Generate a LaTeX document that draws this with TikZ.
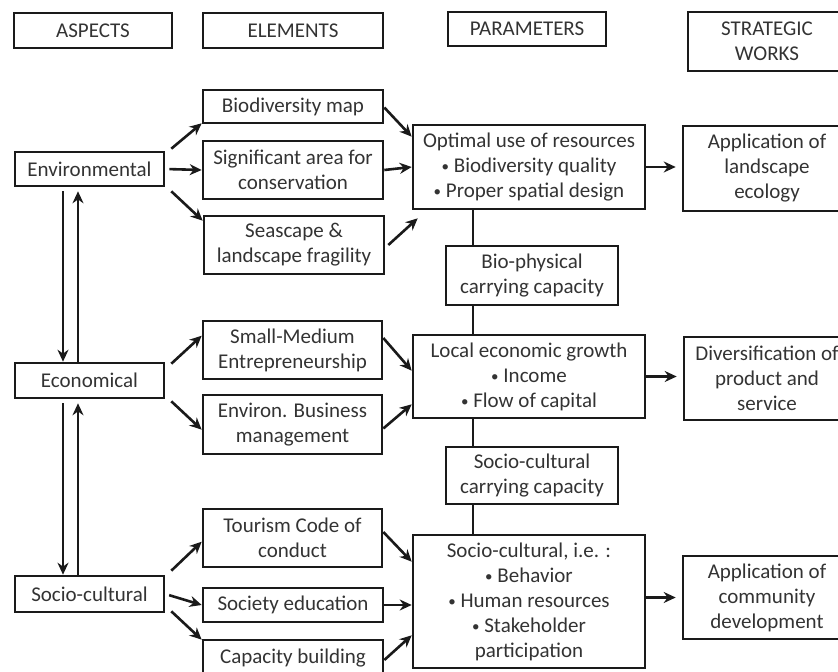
\documentclass[tikz,border=0pt]{standalone}
\usepackage{fontspec}
\setmainfont{Carlito}
\usetikzlibrary{arrows.meta}
\definecolor{txt}{HTML}{333333}
\definecolor{lc}{HTML}{1A1A1A}
\newcommand\smbul{\raisebox{0.5pt}{\fontsize{7.5}{7.5}\selectfont\textbullet}}
\begin{document}
\begin{tikzpicture}[x=0.5pt,y=-0.5pt,
  box/.style={draw=lc, line width=1.3pt, align=center, text=txt, inner sep=0pt,
    font=\fontsize{10.5}{12.5}\selectfont},
  arr/.style={draw=lc, -{Stealth[length=6pt,width=5.5pt]}, line width=1.3pt},
  ln/.style={draw=lc, line width=1.3pt}]
\useasboundingbox (0,0) rectangle (838,672);
\clip (0,0) rectangle (838,672);
% headers
\node[box, minimum width=79pt, minimum height=17.5pt] (asph) at (93,30.5) {ASPECTS};
\node[box, minimum width=90pt, minimum height=17.5pt] (elmh) at (293,30.5) {ELEMENTS};
\node[box, minimum width=79pt, minimum height=17pt] (parh) at (527,29) {PARAMETERS};
\node[box, minimum width=79pt, minimum height=29.5pt] (strh) at (767,41.5) {STRATEGIC\\WORKS};
% aspects
\node[box, minimum width=74.5pt, minimum height=17pt] (env) at (89.5,169) {Environmental};
\node[box, minimum width=74.5pt, minimum height=17.5pt] (econ) at (89.5,380.5) {Economical};
\node[box, minimum width=74.5pt, minimum height=18pt] (socio) at (89.5,594) {Socio-cultural};
% elements
\node[box, minimum width=90pt, minimum height=16.5pt] (biomap) at (293,106.5) {Biodiversity map};
\node[box, minimum width=90pt, minimum height=29pt] (sig) at (293,170) {Significant area for\\conservation};
\node[box, minimum width=90pt, minimum height=29pt] (sea) at (294,245) {Seascape \&\\landscape fragility};
\node[box, minimum width=89.5pt, minimum height=29pt] (small) at (292.5,350) {Small-Medium\\Entrepreneurship};
\node[box, minimum width=89.5pt, minimum height=29.5pt] (envbus) at (292.5,424.5) {Environ. Business\\management};
\node[box, minimum width=89.5pt, minimum height=29pt] (tour) at (292.5,538) {Tourism Code of\\conduct};
\node[box, minimum width=90pt, minimum height=17pt] (soced) at (293,605) {Society education};
\node[box, minimum width=90pt, minimum height=18pt] (capb) at (293,658) {Capacity building};
% parameters
\node[box, minimum width=116pt, minimum height=42pt] (opt) at (529,167) {Optimal use of resources\\\smbul{} Biodiversity quality\\\smbul{} Proper spatial design};
\node[box, minimum width=86pt, minimum height=29.5pt] (biop) at (532,275.5) {Bio-physical\\carrying capacity};
\node[box, minimum width=116pt, minimum height=41.5pt] (local) at (529,376.5) {Local economic growth\\\smbul{} Income\\\smbul{} Flow of capital};
\node[box, minimum width=86pt, minimum height=28.5pt] (socc) at (532,475.5) {Socio-cultural\\carrying capacity};
\node[box, minimum width=116pt, minimum height=66.5pt] (socie) at (529,601.5) {Socio-cultural, i.e. :\\\smbul{} Behavior\\\smbul{} Human resources\\\smbul{} Stakeholder\\participation};
% strategic works
\node[box, minimum width=84pt, minimum height=42.5pt] (app1) at (767,168.5) {Application of\\landscape\\ecology};
\node[box, minimum width=83pt, minimum height=41.5pt] (div) at (767,378.5) {Diversification of\\product and\\service};
\node[box, minimum width=84pt, minimum height=41.5pt] (app2) at (767,597.5) {Application of\\community\\development};
% helper coordinates
\coordinate (la) at (63,0);
\coordinate (ra) at (78,0);
\coordinate (vx) at (473,0);
% aspect vertical arrows
\draw[arr, shorten <=2pt] (env.south -| la) -- (econ.north -| la);
\draw[arr, shorten >=2pt] (econ.north -| ra) -- (env.south -| ra);
\draw[arr, shorten <=2pt] (econ.south -| la) -- (socio.north -| la);
\draw[arr, shorten >=2pt] (socio.north -| ra) -- (econ.south -| ra);
% aspects to elements
\draw[arr] ([shift={(6,-2)}]env.north east) -- ([shift={(0,-1)}]biomap.south west);
\draw[arr, shorten <=2pt] (env.east) -- (sig.west);
\draw[arr] ([shift={(6,4)}]env.south east) -- ([shift={(0,6)}]sea.north west);
\draw[arr] ([shift={(6,2)}]econ.north east) -- ([shift={(0,16)}]small.north west);
\draw[arr] ([shift={(6,2)}]econ.south east) -- ([shift={(0,36)}]envbus.north west);
\draw[arr] ([shift={(6,-4)}]socio.north east) -- ([shift={(0,34)}]tour.north west);
\draw[arr, shorten <=2pt] (socio.east) -- (soced.west);
\draw[arr] ([shift={(6,-2)}]socio.south east) -- ([shift={(0,1)}]capb.north west);
% elements to parameters
\draw[arr] ([shift={(0,1)}]biomap.east) -- ([shift={(0,13)}]opt.north west);
\draw[arr] (sig.east) -- (opt.west);
\draw[arr] ([shift={(3,0)}]sea.east) -- ([shift={(6,8)}]opt.south west);
\draw[arr] ([shift={(0,-12)}]small.east) -- ([shift={(0,37)}]local.north west);
\draw[arr] ([shift={(0,4)}]envbus.east) -- ([shift={(0,-15)}]local.south west);
\draw[arr] ([shift={(0,-6)}]tour.east) -- ([shift={(0,28)}]socie.north west);
\draw[arr] (soced.east) -- (socie.west |- soced.east);
\draw[arr] ([shift={(0,2)}]capb.east) -- ([shift={(0,-34)}]socie.south west);
% parameters to strategic
\draw[arr, shorten >=3pt] (opt.east) -- (app1.west |- opt.east);
\draw[arr, shorten >=3pt] (local.east) -- (div.west |- local.east);
\draw[arr, shorten >=3pt] (socie.east |- app2.west) -- (app2.west);
% parameter chain
\draw[ln] (opt.south -| vx) -- (biop.north -| vx);
\draw[ln] (biop.south -| vx) -- (local.north -| vx);
\draw[ln] (local.south -| vx) -- (socc.north -| vx);
\draw[ln] (socc.south -| vx) -- (socie.north -| vx);
\end{tikzpicture}
\end{document}
